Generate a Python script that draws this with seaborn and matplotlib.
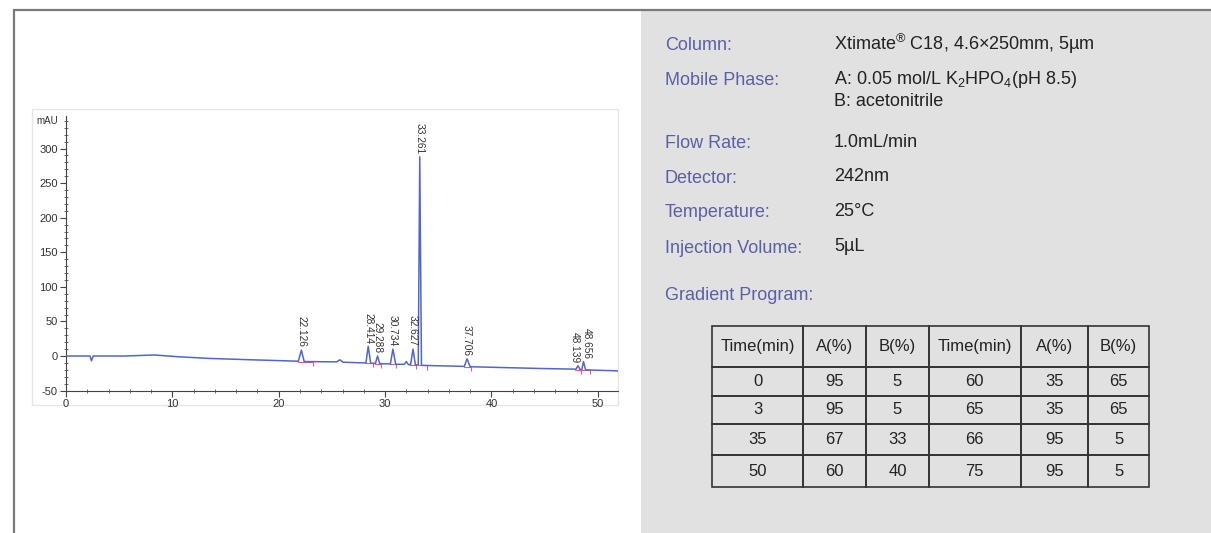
import matplotlib
matplotlib.use("Agg")
import matplotlib.pyplot as plt
import seaborn as sns
from matplotlib.patches import Rectangle
from matplotlib.lines import Line2D

# chromatogram trace (time in min, signal in mAU)
trace_time = [0, 2.25, 2.4, 2.55, 5.5, 8.3, 10.5, 13.5, 17.5, 21.85, 22.126, 22.4,
              25.45, 25.75, 26.05, 28.2, 28.414, 28.65, 29.1, 29.288, 29.5, 30.5,
              30.734, 31.0, 31.8, 32.0, 32.2, 32.4, 32.627, 32.85, 33.12, 33.261,
              33.42, 37.45, 37.706, 38.0, 44.5, 47.95, 48.139, 48.33, 48.5, 48.656,
              48.85, 51.9]
trace_mau = [0, 0, -7, 0, 0, 1.5, -1, -3.5, -5.5, -7.5, 8.5, -8,
             -8.5, -5.5, -9, -10, 14, -10.5, -10.5, 0, -11, -11.5,
             10, -12, -12, -8, -12.5, -12.5, 10, -13, -13, 288,
             -13.5, -15, -4, -15.5, -18, -19, -14, -19.5, -19.5, -8,
             -20, -21.5]

# labelled peaks
peak_rt = [22.126, 28.414, 29.288, 30.734, 32.627, 33.261, 37.706, 48.139, 48.656]
peak_top = [8.5, 14, 0, 10, 10, 288, -4, -14, -8]
peak_start = [21.8, 28.15, 29.05, 30.45, 32.35, 33.1, 37.4, 47.9, 48.45]
peak_end = [23.2, 28.9, 29.6, 31.0, 32.9, 33.9, 38.1, 48.45, 49.3]
peak_base = [-8, -10.5, -11, -12, -13, -13.5, -15.5, -19.5, -20]

# method conditions
spec_labels = ["Column:", "Mobile Phase:", "Flow Rate:", "Detector:", "Temperature:",
               "Injection Volume:", "Gradient Program:"]
spec_values = [r"Xtimate$^{\mathregular{®}}$ C18, 4.6×250mm, 5µm",
               r"A: 0.05 mol/L K$_{\mathregular{2}}$HPO$_{\mathregular{4}}$(pH 8.5)",
               "B: acetonitrile", "1.0mL/min", "242nm", "25°C", "5µL"]

# gradient table
table_header = ["Time(min)", "A(%)", "B(%)", "Time(min)", "A(%)", "B(%)"]
time1 = [0, 3, 35, 50]
a1 = [95, 95, 67, 60]
b1 = [5, 5, 33, 40]
time2 = [60, 65, 66, 75]
a2 = [35, 35, 95, 95]
b2 = [65, 65, 5, 5]

sns.set_style("ticks")
plt.rcParams['font.family'] = ['Liberation Sans', 'DejaVu Sans']
plt.rcParams['mathtext.fontset'] = 'custom'
plt.rcParams['mathtext.rm'] = 'Liberation Sans'
plt.rcParams['mathtext.it'] = 'Liberation Sans:italic'
plt.rcParams['axes.unicode_minus'] = False

W, H = 1211, 533
def fx(px):
    return px / W
def fy(py):
    return 1 - py / H

fig = plt.figure(figsize=(12.11, 5.33), dpi=100)

# grey panel and page border
fig.patches.append(Rectangle((fx(641), 0), 1 - fx(641), fy(11), transform=fig.transFigure,
                             facecolor="#e1e1e1", edgecolor="none", zorder=-2))
fig.lines.append(Line2D([fx(14), 1], [fy(10), fy(10)], transform=fig.transFigure,
                        color="#7a7a7a", lw=1.6))
fig.lines.append(Line2D([fx(14), fx(14)], [fy(10), 0], transform=fig.transFigure,
                        color="#7a7a7a", lw=1.6))
fig.patches.append(Rectangle((fx(32), fy(405)), fx(618) - fx(32), fy(109) - fy(405),
                             transform=fig.transFigure, fill=False, edgecolor="#e6e6e6",
                             lw=1, zorder=-1))

# chromatogram
ax = fig.add_axes([fx(66), fy(390.6), fx(618) - fx(66), fy(116) - fy(390.6)])
ax.set_facecolor("none")
sns.lineplot(x=trace_time, y=trace_mau, ax=ax, sort=False, estimator=None,
             color="#5066cc", lw=1.1, zorder=3)
for s, e, b in zip(peak_start, peak_end, peak_base):
    ax.plot([s, e], [b, b], color="#e0607a", lw=0.8, zorder=2)
    ax.vlines(e, b - 6, b + 1, color="#e0607a", lw=0.8, zorder=2)
nudge = [0, 0, 0, 0, 0, 0, 0, -2.5, 2.5]
for rt, top, dx in zip(peak_rt, peak_top, nudge):
    ax.annotate(f"{rt:.3f}", xy=(rt, top), xytext=(dx, 2), textcoords="offset points",
                rotation=270, ha="center", va="bottom", fontsize=7.3, color="#333333")

ax.set_xlim(0, 51.9)
ax.set_ylim(-50, 347)
ax.set_xticks(range(0, 51, 10))
ax.set_xticks(range(0, 52, 2), minor=True)
ax.set_yticks(range(-50, 301, 50))
ax.set_yticks(range(-50, 347, 10), minor=True)
ax.tick_params(which="major", length=4, width=0.8, color="#444444", labelsize=8,
               labelcolor="#333333", pad=2)
ax.tick_params(which="minor", direction="inout", length=3, width=0.6, color="#555555")
for sp in ["top", "right"]:
    ax.spines[sp].set_visible(False)
for sp in ["left", "bottom"]:
    ax.spines[sp].set_color("#444444")
    ax.spines[sp].set_linewidth(0.8)
ax.set_xlabel("")
ax.set_ylabel("")
ax.annotate("mAU", xy=(0, 340), xycoords=("axes fraction", "data"), xytext=(-6, 0),
            textcoords="offset points", ha="right", va="center", fontsize=7, color="#333333")

# method conditions text
label_col = "#5b5fa6"
label_y = [50.5, 85, 148, 183, 217, 253, 300]
value_y = [50.5, 84, 106, 146.7, 181.5, 216.5, 251]
for txt, y in zip(spec_labels, label_y):
    fig.text(fx(665), fy(y), txt, color=label_col, fontsize=13, va="baseline", ha="left")
for txt, y in zip(spec_values, value_y):
    fig.text(fx(834), fy(y), txt, color="#222222", fontsize=13, va="baseline", ha="left")

# gradient table
rows = [[str(v) for v in r] for r in zip(time1, a1, b1, time2, a2, b2)]
col_w = [91, 63, 62.5, 92, 67, 61.3]
row_h = [40.7, 29, 28.3, 31.3, 31.4]
tax = fig.add_axes([fx(712), fy(486.7), fx(1149.3) - fx(712), fy(326) - fy(486.7)])
tax.axis("off")
tbl = tax.table(cellText=rows, colLabels=table_header, cellLoc="center", bbox=[0, 0, 1, 1])
tbl.auto_set_font_size(False)
for (r, c), cell in tbl.get_celld().items():
    cell.set_width(col_w[c] / sum(col_w))
    cell.set_height(row_h[r] / sum(row_h))
    cell.set_facecolor("none")
    cell.set_edgecolor("#333333")
    cell.set_linewidth(1.2)
    cell.get_text().set_fontsize(12)
    cell.get_text().set_color("#222222")

fig.savefig("out.png", dpi=100)
